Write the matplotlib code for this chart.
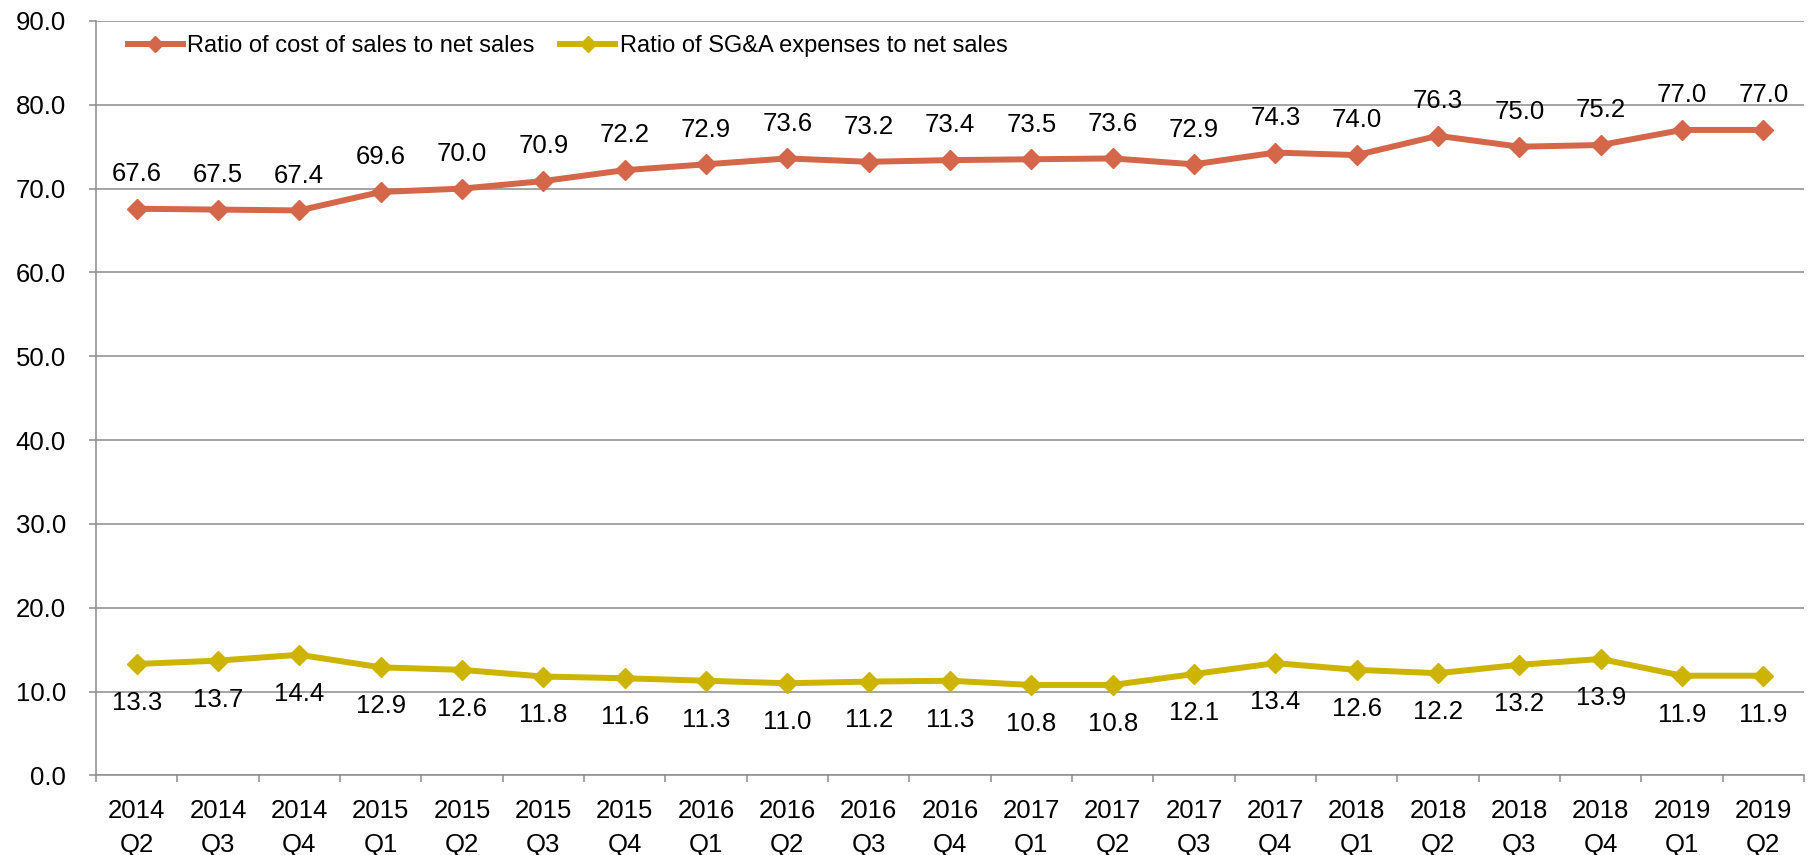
import matplotlib
matplotlib.use("Agg")
import matplotlib.pyplot as plt
import numpy as np

plt.rcParams['font.family'] = ['Liberation Sans', 'DejaVu Sans']

# Quarterly ratios (%)
quarters = ["2014\nQ2", "2014\nQ3", "2014\nQ4", "2015\nQ1", "2015\nQ2", "2015\nQ3", "2015\nQ4",
            "2016\nQ1", "2016\nQ2", "2016\nQ3", "2016\nQ4", "2017\nQ1", "2017\nQ2", "2017\nQ3",
            "2017\nQ4", "2018\nQ1", "2018\nQ2", "2018\nQ3", "2018\nQ4", "2019\nQ1", "2019\nQ2"]
cost_ratio = [67.6, 67.5, 67.4, 69.6, 70.0, 70.9, 72.2, 72.9, 73.6, 73.2, 73.4,
              73.5, 73.6, 72.9, 74.3, 74.0, 76.3, 75.0, 75.2, 77.0, 77.0]
sga_ratio = [13.3, 13.7, 14.4, 12.9, 12.6, 11.8, 11.6, 11.3, 11.0, 11.2, 11.3,
             10.8, 10.8, 12.1, 13.4, 12.6, 12.2, 13.2, 13.9, 11.9, 11.9]

red = "#D4664A"
gold = "#CCB400"
grey = "#8C8C8C"
fs = 18.5

fig = plt.figure(figsize=(18.14, 8.55), dpi=100)
ax = fig.add_axes([0.0529, 0.0930, 0.9416, 0.8825])

x = np.arange(len(quarters))
ax.plot(x, cost_ratio, color=red, lw=4.3, marker="D", ms=10, label="Ratio of cost of sales to net sales")
ax.plot(x, sga_ratio, color=gold, lw=4.3, marker="D", ms=10, label="Ratio of SG&A expenses to net sales")

# Data labels: cost ratio above, SG&A ratio below
for xi, v in zip(x, cost_ratio):
    ax.annotate(f"{v:.1f}", (xi, v), xytext=(0, 25), textcoords="offset points",
                ha="center", va="center", fontsize=fs)
for xi, v in zip(x, sga_ratio):
    ax.annotate(f"{v:.1f}", (xi, v), xytext=(0, -28), textcoords="offset points",
                ha="center", va="center", fontsize=fs)

ax.set_ylim(0, 90)
ax.set_yticks(np.arange(0, 91, 10))
ax.set_yticklabels([f"{t:.1f}" for t in np.arange(0, 91, 10)], fontsize=fs)
ax.yaxis.grid(True, color=grey, lw=1.1)
ax.set_axisbelow(True)

ax.set_xlim(-0.5, len(quarters) - 0.5)
ax.set_xticks(np.arange(-0.5, len(quarters), 1.0))
ax.set_xticklabels([])
ax.set_xticks(x, minor=True)
ax.set_xticklabels(quarters, minor=True, fontsize=fs, linespacing=1.5)
ax.tick_params(axis="x", which="minor", length=0, pad=17)
ax.tick_params(axis="x", which="major", length=5, color=grey, width=1.1)
ax.tick_params(axis="y", length=5, color=grey, width=1.1, pad=16.5)

for side in ["top", "right"]:
    ax.spines[side].set_visible(False)
for side in ["left", "bottom"]:
    ax.spines[side].set_color(grey)
    ax.spines[side].set_linewidth(1.1)

ax.legend(loc="upper left", bbox_to_anchor=(0.0186, 0.9815), ncol=2, frameon=False, fontsize=17,
          handlelength=2.33, handletextpad=0.18, columnspacing=1.1, borderaxespad=0, borderpad=0,
          markerscale=0.8)

fig.savefig("out.png", dpi=100)
